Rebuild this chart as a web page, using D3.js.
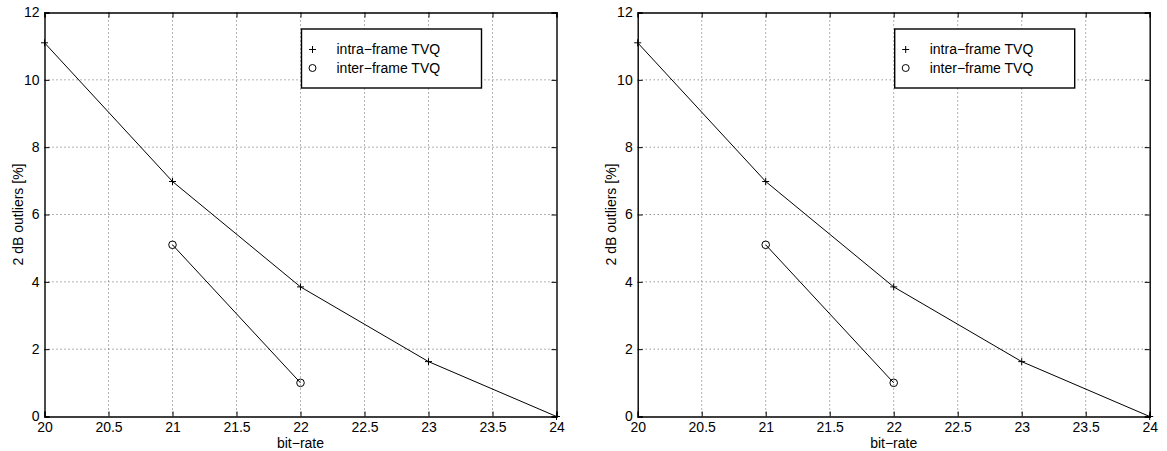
<!DOCTYPE html>
<html>
<head>
<meta charset="utf-8">
<script src="https://cdn.jsdelivr.net/npm/d3@7"></script>
<style>
  body { margin: 0; background: #fff; }
  svg text { font-family: "Liberation Sans", Arial, Helvetica, sans-serif; fill: #000; }
</style>
</head>
<body>
<svg id="chart" width="1167" height="451"></svg>
<script>
// data (both panels show the same curves)
const intraRate = [20, 21, 22, 23, 24];
const intraOut = [11.1, 6.98, 3.85, 1.63, 0];
const interRate = [21, 22];
const interOut = [5.1, 1.0];
const xTicks = [20, 20.5, 21, 21.5, 22, 22.5, 23, 23.5, 24];
const yTicks = [0, 2, 4, 6, 8, 10, 12];
const legendNames = ['intra\u2212frame TVQ', 'inter\u2212frame TVQ'];

var svg = d3.select('#chart');
var panelLefts = [44.5, 637.7];
var plotTop = 12.5, plotBottom = 416.5, plotW = 512;
var fs = 14;

panelLefts.forEach(left => drawPanel(left));

function drawPanel(left) {
  var x = d3.scaleLinear().domain([20, 24]).range([left, left + plotW]);
  var y = d3.scaleLinear().domain([0, 12]).range([plotBottom, plotTop]);
  var g = svg.append('g');

  // dotted grid
  g.selectAll('.gx').data(xTicks.slice(1, -1)).enter().append('line')
    .attr('x1', d => x(d)).attr('x2', d => x(d))
    .attr('y1', plotTop).attr('y2', plotBottom)
    .attr('stroke', '#666').attr('stroke-width', 1).attr('stroke-dasharray', '1,3');
  g.selectAll('.gy').data(yTicks.slice(1, -1)).enter().append('line')
    .attr('x1', left).attr('x2', left + plotW)
    .attr('y1', d => y(d)).attr('y2', d => y(d))
    .attr('stroke', '#666').attr('stroke-width', 1).attr('stroke-dasharray', '1,3');

  // axes with inward ticks
  g.append('g').attr('transform', `translate(0,${plotBottom})`)
    .call(d3.axisBottom(x).tickValues(xTicks).tickSize(-5).tickPadding(6).tickFormat(d3.format('')));
  g.append('g').attr('transform', `translate(0,${plotTop})`)
    .call(d3.axisTop(x).tickValues(xTicks).tickSize(-5).tickFormat(''));
  g.append('g').attr('transform', `translate(${left},0)`)
    .call(d3.axisLeft(y).tickValues(yTicks).tickSize(-5).tickPadding(5));
  g.append('g').attr('transform', `translate(${left + plotW},0)`)
    .call(d3.axisRight(y).tickValues(yTicks).tickSize(-5).tickFormat(''));
  g.selectAll('.domain').attr('stroke', '#000').attr('stroke-width', 1.4);
  g.selectAll('.tick line').attr('stroke', '#000');
  g.selectAll('.tick text').attr('font-size', fs);

  // lines
  var line = d3.line().x(d => x(d[0])).y(d => y(d[1]));
  g.append('path').datum(d3.zip(intraRate, intraOut))
    .attr('d', line).attr('fill', 'none').attr('stroke', '#000').attr('stroke-width', 1);
  g.append('path').datum(d3.zip(interRate, interOut))
    .attr('d', line).attr('fill', 'none').attr('stroke', '#000').attr('stroke-width', 1);

  // markers
  g.selectAll('.plus').data(d3.zip(intraRate, intraOut)).enter().append('path')
    .attr('d', d => `M${x(d[0]) - 3.5},${y(d[1])}h7M${x(d[0])},${y(d[1]) - 3.5}v7`)
    .attr('stroke', '#000').attr('stroke-width', 1);
  g.selectAll('.circ').data(d3.zip(interRate, interOut)).enter().append('circle')
    .attr('cx', d => x(d[0])).attr('cy', d => y(d[1])).attr('r', 3.8)
    .attr('fill', 'none').attr('stroke', '#000').attr('stroke-width', 1);

  // labels
  g.append('text').attr('x', left + plotW / 2).attr('y', 448)
    .attr('text-anchor', 'middle').attr('font-size', fs).text('bit\u2212rate');
  g.append('text').attr('transform', `translate(${left - 21.5},${(plotTop + plotBottom) / 2}) rotate(-90)`)
    .attr('text-anchor', 'middle').attr('font-size', fs).text('2 dB outliers [%]');

  // legend
  var lx = left + 257, ly = 29;
  g.append('rect').attr('x', lx).attr('y', ly).attr('width', 180).attr('height', 59)
    .attr('fill', '#fff').attr('stroke', '#000').attr('stroke-width', 1.4);
  var mx = lx + 11;
  g.append('path').attr('d', `M${mx - 3.5},${ly + 20.5}h7M${mx},${ly + 17}v7`)
    .attr('stroke', '#000').attr('stroke-width', 1);
  g.append('circle').attr('cx', mx).attr('cy', ly + 39).attr('r', 3.5)
    .attr('fill', 'none').attr('stroke', '#000').attr('stroke-width', 1);
  legendNames.forEach((name, i) => {
    g.append('text').attr('x', lx + 35).attr('y', ly + 25 + i * 19)
      .attr('font-size', fs).text(name);
  });
}
</script>
</body>
</html>
